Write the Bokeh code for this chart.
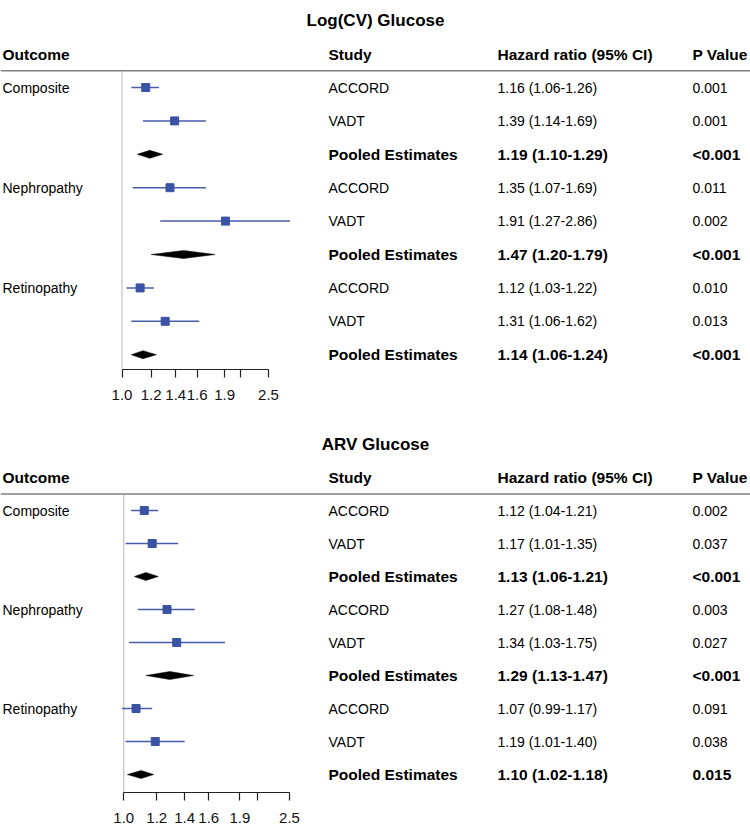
import math
from bokeh.plotting import figure
from bokeh.layouts import column
from bokeh.models import Range1d, FixedTicker, PrintfTickFormatter, Span, ColumnDataSource, LinearScale
from bokeh.core.properties import value
from bokeh.embed import file_html
from bokeh.resources import INLINE

# ---------------- data ----------------
outcomes = ["Composite", "Nephropathy", "Retinopathy"]
studies = ["ACCORD", "VADT", "Pooled Estimates"]

logcv_hr = [1.16, 1.39, 1.19, 1.35, 1.91, 1.47, 1.12, 1.31, 1.14]
logcv_lo = [1.06, 1.14, 1.10, 1.07, 1.27, 1.20, 1.03, 1.06, 1.06]
logcv_hi = [1.26, 1.69, 1.29, 1.69, 2.86, 1.79, 1.22, 1.62, 1.24]
logcv_p = ["0.001", "0.001", "<0.001", "0.011", "0.002", "<0.001", "0.010", "0.013", "<0.001"]

arv_hr = [1.12, 1.17, 1.13, 1.27, 1.34, 1.29, 1.07, 1.19, 1.10]
arv_lo = [1.04, 1.01, 1.06, 1.08, 1.03, 1.13, 0.99, 1.01, 1.02]
arv_hi = [1.21, 1.35, 1.21, 1.48, 1.75, 1.47, 1.17, 1.40, 1.18]
arv_p = ["0.002", "0.037", "<0.001", "0.003", "0.027", "<0.001", "0.091", "0.038", "0.015"]

tick_values = [1.0, 1.2, 1.4, 1.6, 1.9, 2.5]
minor_tick_values = [2.1]

titles = ["Log(CV) Glucose", "ARV Glucose"]
headers = ["Outcome", "Study", "Hazard ratio (95% CI)", "P Value"]

FONT = value("Liberation Sans")
SQ_COLOR = "#3a53a4"
LINE_COLOR = "#4a5ba8"

W = 750
COL_X = [2, 328, 497, 692]  # x of text columns (pixels)


def panel(title, hr, lo, hi, pv, fig_top, fig_h, axis_y, row0, dy, x1_page, x25_page):
    frame_h = axis_y - fig_top
    k = math.log(2.5) / (x25_page - x1_page)
    x_start = math.exp(-x1_page * k)
    x_end = math.exp((W - x1_page) * k)
    y_bot = (axis_y - row0) / dy
    y_top = (fig_top - row0) / dy

    p = figure(width=W, height=fig_h, x_axis_type="log",
               x_range=Range1d(x_start, x_end), y_range=Range1d(y_bot, y_top),
               output_backend="svg", toolbar_location=None,
               min_border_left=0, min_border_right=0, min_border_top=0,
               min_border_bottom=fig_h - frame_h)
    p.extra_x_ranges = {"px": Range1d(0, W)}
    p.extra_x_scales = {"px": LinearScale()}
    p.outline_line_color = None
    p.xgrid.visible = False
    p.ygrid.visible = False
    p.yaxis.visible = False

    ax = p.xaxis[0]
    ax.ticker = FixedTicker(ticks=tick_values, minor_ticks=minor_tick_values)
    ax.formatter = PrintfTickFormatter(format="%.1f")
    ax.bounds = (1.0, 2.5)
    ax.axis_line_color = "#222222"
    ax.axis_line_width = 1.2
    ax.major_tick_line_color = "#222222"
    ax.minor_tick_line_color = "#222222"
    ax.major_tick_line_width = 1.2
    ax.minor_tick_line_width = 1.2
    ax.major_tick_in = 0
    ax.major_tick_out = 8
    ax.minor_tick_in = 0
    ax.minor_tick_out = 8
    ax.major_label_standoff = 12
    ax.major_label_text_font = "Liberation Sans"
    ax.major_label_text_font_size = "15px"
    ax.major_label_text_color = "#111111"

    n = len(hr)
    rows = list(range(n))
    is_pooled = [i % 3 == 2 for i in rows]

    # reference line at HR = 1
    p.segment(x0=[1.0], y0=[-0.5], x1=[1.0], y1=[y_bot], line_color="#c4c4c4", line_width=1.2)
    # header rule
    p.add_layout(Span(location=-0.5, dimension="width", line_color="#808080", line_width=1.5))

    # study CIs and squares
    st = [i for i in rows if not is_pooled[i]]
    src = ColumnDataSource(dict(y=[rows[i] for i in st], hr=[hr[i] for i in st],
                                lo=[lo[i] for i in st], hi=[hi[i] for i in st]))
    p.segment(x0="lo", y0="y", x1="hi", y1="y", source=src, line_color=LINE_COLOR, line_width=1.5)
    p.scatter(x="hr", y="y", source=src, marker="square", size=8,
              fill_color=SQ_COLOR, line_color=SQ_COLOR)

    # pooled diamonds
    h = 4.0 / dy
    pl = [i for i in rows if is_pooled[i]]
    xs = [[lo[i], hr[i], hi[i], hr[i]] for i in pl]
    ys = [[rows[i], rows[i] - h, rows[i], rows[i] + h] for i in pl]
    p.patches(xs=xs, ys=ys, fill_color="black", line_color="black", line_width=0.5)

    # title
    p.text(x=[375], y=[-2], text=[title], x_range_name="px", text_font=FONT,
           text_font_size=value("17px"), text_font_style="bold",
           text_align="center", text_baseline="middle", text_color="black")
    # headers
    p.text(x=COL_X, y=[-1] * 4, text=headers, x_range_name="px", text_font=FONT,
           text_font_size=value("15.5px"), text_font_style="bold",
           text_align="left", text_baseline="middle", text_color="black")

    # outcome labels
    p.text(x=[COL_X[0]] * 3, y=[0, 3, 6], text=outcomes, x_range_name="px", text_font=FONT,
           text_font_size=value("14px"), text_align="left", text_baseline="middle",
           text_color="black")

    hr_txt = [f"{hr[i]:.2f} ({lo[i]:.2f}-{hi[i]:.2f})" for i in rows]
    stud = [studies[i % 3] for i in rows]
    for pooled, size, style in [(False, "14px", "normal"), (True, "15.5px", "bold")]:
        idx = [i for i in rows if is_pooled[i] == pooled]
        for cx, vals in [(COL_X[1], stud), (COL_X[2], hr_txt), (COL_X[3], pv)]:
            p.text(x=[cx] * len(idx), y=[rows[i] for i in idx], text=[vals[i] for i in idx],
                   x_range_name="px", text_font=FONT, text_font_size=value(size),
                   text_font_style=style, text_align="left", text_baseline="middle",
                   text_color="black")
    return p


p1 = panel(titles[0], logcv_hr, logcv_lo, logcv_hi, logcv_p,
           fig_top=0, fig_h=425, axis_y=369, row0=87, dy=33.4, x1_page=121.5, x25_page=268)
p2 = panel(titles[1], arv_hr, arv_lo, arv_hi, arv_p,
           fig_top=425, fig_h=411, axis_y=792, row0=510, dy=33.0, x1_page=123.3, x25_page=289)

layout = column(p1, p2, spacing=0)
open("out.html", "w").write(file_html(layout, INLINE))
